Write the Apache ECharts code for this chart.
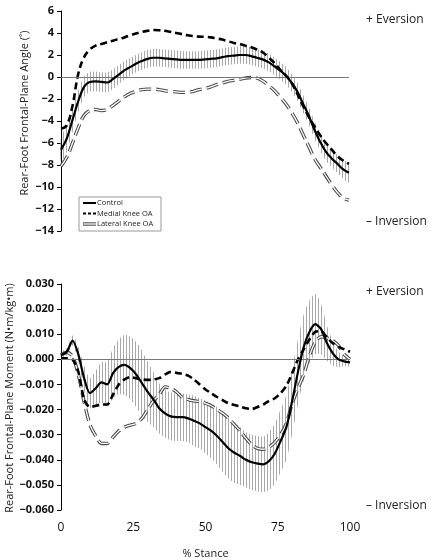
<!DOCTYPE html>
<html><head><meta charset="utf-8">
<script src="https://cdn.jsdelivr.net/npm/echarts@6/dist/echarts.min.js"></script>
<style>html,body{margin:0;padding:0;background:#fff}#c{width:432px;height:560px}</style>
</head><body><div id="c"></div>
<script>
const pct = [0,2,4,6,8,10,12,14,16,18,20,22,24,26,28,30,32,34,36,38,40,42,44,46,48,50,52,54,56,58,60,62,64,66,68,70,72,74,76,78,80,82,84,86,88,90,92,94,96,98,100];

const angleControl = [-6.6,-5.6,-3.9,-2.2,-0.9,-0.45,-0.4,-0.45,-0.5,-0.2,
 0.2,0.6,0.9,1.2,1.45,1.65,1.75,1.75,1.7,1.65,
 1.6,1.55,1.55,1.55,1.55,1.6,1.65,1.7,1.8,1.9,
 1.95,2.0,2.0,1.9,1.75,1.6,1.35,1.0,0.6,0.15,
 -0.5,-1.3,-2.4,-3.5,-4.8,-5.9,-6.8,-7.4,-7.9,-8.4,-8.7];
const angleControlSD = [1.1,1.2,1.1,1.0,0.95,0.9,0.9,0.9,0.9,0.9,
 0.85,0.85,0.8,0.8,0.8,0.8,0.8,0.8,0.8,0.8,
 0.8,0.8,0.8,0.8,0.8,0.8,0.8,0.8,0.8,0.8,
 0.8,0.8,0.8,0.8,0.8,0.8,0.8,0.8,0.8,0.8,
 0.8,0.8,0.8,0.8,0.8,0.8,0.8,0.8,0.8,0.85,0.9];
const angleMedial = [-4.7,-4.4,-2.6,0.3,1.8,2.5,2.85,3.0,3.15,3.3,
 3.45,3.6,3.8,3.95,4.1,4.2,4.27,4.25,4.2,4.1,
 4.0,3.9,3.8,3.72,3.67,3.65,3.6,3.5,3.4,3.25,
 3.1,3.0,2.85,2.7,2.5,2.25,1.8,1.3,0.7,0.15,
 -0.5,-1.5,-2.6,-3.6,-4.5,-5.3,-6.0,-6.6,-7.2,-7.6,-7.9];
const angleLateral = [-8.1,-7.3,-6.0,-4.6,-3.5,-3.05,-2.95,-3.05,-2.95,-2.6,
 -2.2,-1.8,-1.5,-1.3,-1.15,-1.1,-1.1,-1.15,-1.25,-1.3,
 -1.35,-1.4,-1.4,-1.3,-1.15,-1.05,-0.9,-0.7,-0.55,-0.4,
 -0.3,-0.2,-0.1,-0.05,-0.1,-0.35,-0.75,-1.2,-1.8,-2.4,
 -3.2,-4.1,-5.2,-6.3,-7.4,-8.2,-9.0,-9.8,-10.5,-11.0,-11.2];

const momentControl = [0.0017,0.0030,0.0075,0.0020,-0.0075,-0.0135,-0.0115,-0.0092,-0.0100,-0.0055,
 -0.0030,-0.0022,-0.0035,-0.0060,-0.0095,-0.0130,-0.0160,-0.0195,-0.0215,-0.0227,
 -0.0230,-0.0230,-0.0235,-0.0245,-0.0255,-0.0270,-0.0285,-0.0305,-0.0330,-0.0355,
 -0.0372,-0.0385,-0.0400,-0.0410,-0.0415,-0.0418,-0.0405,-0.0375,-0.0325,-0.0270,
 -0.0165,-0.0050,0.0050,0.0110,0.0140,0.0120,0.0065,0.0025,0.0000,-0.0008,-0.0012];
const momentControlSD = [0.0010,0.0015,0.0020,0.0030,0.0050,0.0060,0.0070,0.0080,0.0090,0.0100,
 0.0110,0.0120,0.0125,0.0130,0.0130,0.0120,0.0110,0.0100,0.0095,0.0095,
 0.0095,0.0095,0.0095,0.0100,0.0100,0.0105,0.0110,0.0115,0.0120,0.0120,
 0.0120,0.0115,0.0110,0.0110,0.0110,0.0110,0.0115,0.0120,0.0125,0.0130,
 0.0130,0.0130,0.0130,0.0125,0.0120,0.0100,0.0070,0.0050,0.0030,0.0020,0.0015];
const momentMedial = [0.0004,0.0004,0.0000,-0.0050,-0.0160,-0.0190,-0.0185,-0.0180,-0.0180,-0.0140,
 -0.0100,-0.0080,-0.0071,-0.0075,-0.0080,-0.0082,-0.0080,-0.0075,-0.0060,-0.0050,
 -0.0054,-0.0058,-0.0065,-0.0080,-0.0100,-0.0120,-0.0135,-0.0150,-0.0163,-0.0175,
 -0.0182,-0.0188,-0.0195,-0.0198,-0.0190,-0.0180,-0.0165,-0.0155,-0.0135,-0.0105,
 -0.0055,0.0000,0.0040,0.0080,0.0110,0.0112,0.0088,0.0065,0.0050,0.0040,0.0030];
const momentLateral = [0.0017,0.0028,0.0012,-0.0060,-0.0170,-0.0260,-0.0305,-0.0335,-0.0335,-0.0310,
 -0.0285,-0.0270,-0.0262,-0.0255,-0.0235,-0.0200,-0.0165,-0.0140,-0.0110,-0.0115,
 -0.0130,-0.0152,-0.0160,-0.0165,-0.0168,-0.0175,-0.0185,-0.0200,-0.0215,-0.0235,
 -0.0260,-0.0285,-0.0315,-0.0340,-0.0355,-0.0358,-0.0350,-0.0330,-0.0300,-0.0255,
 -0.0175,-0.0115,-0.0060,0.0015,0.0070,0.0090,0.0085,0.0075,0.0055,0.0020,0.0000];

const xTicks = [0,25,50,75,100];
const angleTicks = [-14,-12,-10,-8,-6,-4,-2,0,2,4,6];
const momentTicks = [-0.060,-0.050,-0.040,-0.030,-0.020,-0.010,0.000,0.010,0.020,0.030];
const seriesNames = ['Control','Medial Knee OA','Lateral Knee OA'];

const FONT = 'Open Sans';
const pair = arr => pct.map((p,i)=>[p,arr[i]]);
const triple = (m,s) => pct.map((p,i)=>[p,m[i],s[i]]);
const minus = s => String(s).replace('-', '\u2212');

// vertical hatch used to fill the ±SD band of the control group
const hatch = document.createElement('canvas');
hatch.width = 3; hatch.height = 4;
(function(){ const g = hatch.getContext('2d'); g.fillStyle = '#a9a9a9'; g.fillRect(0,0,1,4); })();

function bandRender(mean, sd){
  return function(params, api){
    if (params.dataIndex !== 0) return null;
    const up = [], lo = [];
    for (let i = 0; i < pct.length; i++){
      up.push(api.coord([pct[i], mean[i] + sd[i]]));
      lo.push(api.coord([pct[i], mean[i] - sd[i]]));
    }
    return {type:'polygon', shape:{points: up.concat(lo.reverse()), smooth:0.3},
            style:{fill:{image:hatch, repeat:'repeat'}, stroke:null}};
  };
}

function yAxisCfg(grid, ticks, fmt){
  return {
    type:'value', gridIndex:grid, min:ticks[0], max:ticks[ticks.length-1],
    interval: +(ticks[1]-ticks[0]).toFixed(4),
    axisLine:{show:true, lineStyle:{color:'#000', width:1}},
    axisTick:{show:true, inside:false, length:4, lineStyle:{color:'#000'}},
    splitLine:{show:false},
    axisLabel:{color:'#111', fontFamily:FONT, fontWeight:'bold', fontSize:11, margin:7, formatter:fmt}
  };
}

function lineSet(grid, ctrl, med, lat, smooth){
  const zero = {silent:true, symbol:'none', label:{show:false}, lineStyle:{color:'#777', width:1, type:'solid'}, data:[{yAxis:0}]};
  return [
    {type:'line', name:'Control', xAxisIndex:grid, yAxisIndex:grid, data:pair(ctrl), smooth:smooth, symbol:'none', z:5,
     lineStyle:{color:'#000', width:2.2, type:'solid'}, itemStyle:{color:'#000'}, markLine:zero},
    {type:'line', name:'Medial Knee OA', xAxisIndex:grid, yAxisIndex:grid, data:pair(med), smooth:smooth, symbol:'none', z:4,
     lineStyle:{color:'#000', width:2.6, type:[7,4]}, itemStyle:{color:'#000'}},
    {type:'line', name:'Lateral Knee OA', xAxisIndex:grid, yAxisIndex:grid, data:pair(lat), smooth:smooth, symbol:'none', z:3,
     lineStyle:{color:'#4a4a4a', width:3.4, type:[12,5]}, itemStyle:{color:'#4a4a4a'}},
    {type:'line', name:'lateral-inner', xAxisIndex:grid, yAxisIndex:grid, data:pair(lat), smooth:smooth, symbol:'none', z:3.5,
     lineStyle:{color:'#fff', width:1.3, type:[12,5]}, itemStyle:{color:'#fff'}}
  ];
}

const chart = echarts.init(document.getElementById('c'), null, {renderer:'canvas'});
const txt = (x,y,t,extra) => ({type:'text', x:x, y:y, style:Object.assign({text:t, fontFamily:FONT, fontSize:12, fill:'#222', textVerticalAlign:'middle'}, extra||{})});

// legend (drawn as a boxed key like the original)
const L = {x:79, y:197, w:82, h:34, rows:[203, 213.5, 224], lx1:83, lx2:96, tx:97};
const legendGraphic = [
  {type:'rect', shape:{x:L.x, y:L.y, width:L.w, height:L.h}, style:{fill:'#fff', stroke:'#999', lineWidth:1}, z:10},
  {type:'line', shape:{x1:L.lx1, y1:L.rows[0], x2:L.lx2, y2:L.rows[0]}, style:{stroke:'#000', lineWidth:2}, z:11},
  {type:'line', shape:{x1:L.lx1, y1:L.rows[1], x2:L.lx2, y2:L.rows[1]}, style:{stroke:'#000', lineWidth:2, lineDash:[3,2]}, z:11},
  {type:'line', shape:{x1:L.lx1, y1:L.rows[2], x2:L.lx2, y2:L.rows[2]}, style:{stroke:'#4a4a4a', lineWidth:3.4}, z:11},
  {type:'line', shape:{x1:L.lx1+0.5, y1:L.rows[2], x2:L.lx2, y2:L.rows[2]}, style:{stroke:'#fff', lineWidth:1.3}, z:12}
].concat(seriesNames.map((n,i) => Object.assign(txt(L.tx, L.rows[i], n, {fontSize:7.5, fill:'#222'}), {z:11})));

chart.setOption({
  animation:false,
  backgroundColor:'#fff',
  grid:[
    {left:61, top:11, width:288, height:220},
    {left:61, top:284, width:289, height:228}
  ],
  xAxis:[
    {type:'value', gridIndex:0, min:xTicks[0], max:xTicks[xTicks.length-1], show:false},
    {type:'value', gridIndex:1, min:xTicks[0], max:xTicks[xTicks.length-1], interval:xTicks[1]-xTicks[0],
     axisLine:{show:false}, axisTick:{show:false}, splitLine:{show:false},
     axisLabel:{color:'#111', fontFamily:FONT, fontSize:12, margin:12},
     name:'% Stance', nameLocation:'middle', nameGap:38, nameTextStyle:{fontFamily:FONT, fontSize:11, color:'#222'}}
  ],
  yAxis:[
    yAxisCfg(0, angleTicks, v => minus(v)),
    yAxisCfg(1, momentTicks, v => minus(v.toFixed(3)))
  ],
  series:[
    {type:'custom', name:'Control SD', xAxisIndex:0, yAxisIndex:0, renderItem:bandRender(angleControl, angleControlSD), data:triple(angleControl, angleControlSD), encode:{x:0, y:[1]}, z:1, silent:true},
    ...lineSet(0, angleControl, angleMedial, angleLateral, 0.4),
    {type:'custom', name:'Control SD', xAxisIndex:1, yAxisIndex:1, renderItem:bandRender(momentControl, momentControlSD), data:triple(momentControl, momentControlSD), encode:{x:0, y:[1]}, z:1, silent:true},
    ...lineSet(1, momentControl, momentMedial, momentLateral, 0.25)
  ],
  graphic:[
    Object.assign(txt(25, 113, 'Rear-Foot Frontal-Plane Angle (\u02DA)', {textAlign:'center', fontSize:11}), {rotation:Math.PI/2}),
    Object.assign(txt(10, 398, 'Rear-Foot Frontal-Plane Moment (N\u2022m/kg\u2022m)', {textAlign:'center', fontSize:11}), {rotation:Math.PI/2}),
    txt(366, 20, '+ Eversion'),
    txt(366, 222, '\u2013 Inversion'),
    txt(366, 292, '+ Eversion'),
    txt(366, 506, '\u2013 Inversion')
  ].concat(legendGraphic)
});
</script></body></html>
